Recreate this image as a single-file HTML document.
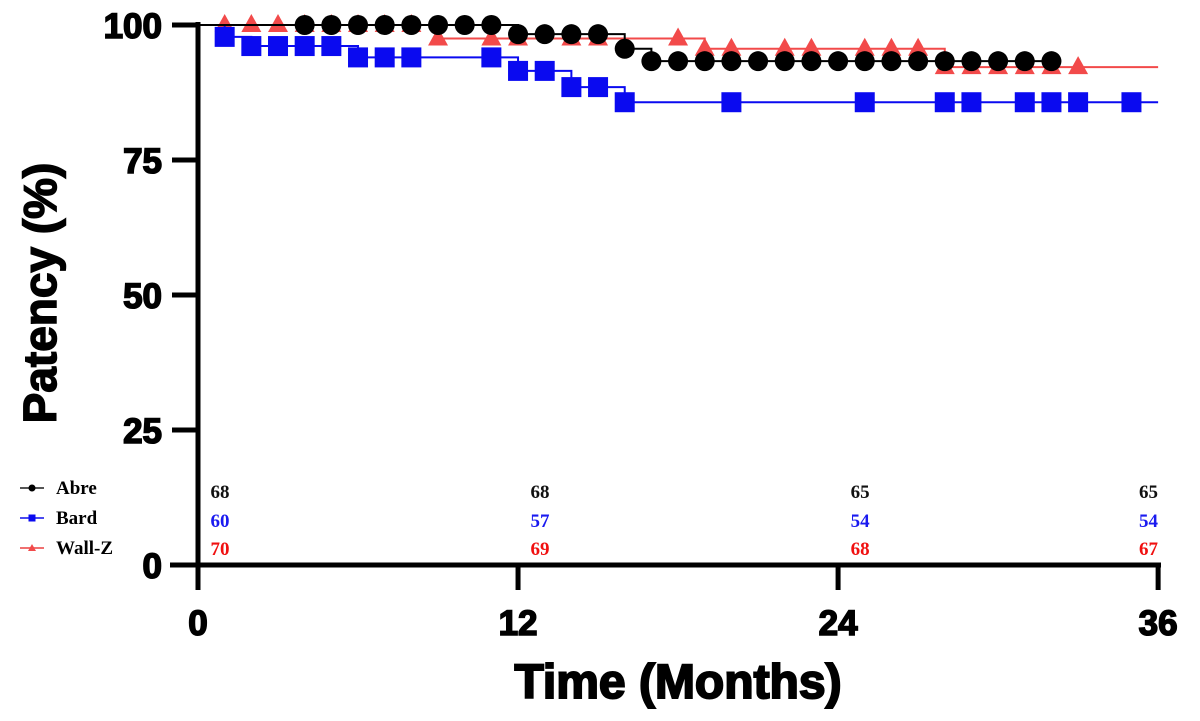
<!DOCTYPE html>
<html><head><meta charset="utf-8"><style>
body{margin:0;background:#fff}
svg{display:block}
.tk{font:bold 35px "Liberation Sans",sans-serif;stroke:#000;stroke-width:1.6px}
.n{font:bold 19px "Liberation Serif",serif}
</style></head><body>
<svg id="c" width="1200" height="721"></svg>
<script>
const months=[0,12,24,36];
const yTicks=[0,25,50,75,100];
const abreSteps=[[0,100],[12,98.3],[16,95.6],[17,93.3],[32,93.3]];
const abreMarks=[4,5,6,7,8,9,10,11,12,13,14,15,16,17,18,19,20,21,22,23,24,25,26,27,28,29,30,31,32];
const bardSteps=[[0,100],[1,97.8],[2,96.1],[6,94],[12,91.5],[14,88.5],[16,85.7],[36,85.7]];
const bardMarks=[1,2,3,4,5,6,7,8,11,12,13,14,15,16,20,25,28,29,31,32,33,35];
const wallSteps=[[0,100],[9,97.5],[19,95.6],[28,92.2],[36,92.2]];
const wallMarks=[1,2,3,4,5,6,7,8,9,11,12,14,15,18,19,20,22,23,25,26,27,28,29,30,31,32,33];
const atRiskAbre=[68,68,65,65];
const atRiskBard=[60,57,54,54];
const atRiskWall=[70,69,68,67];
const NS="http://www.w3.org/2000/svg",svg=document.getElementById('c');
const X=m=>198+m*26.67, Y=v=>565-v*5.4;
function mk(t,a,p){const e=document.createElementNS(NS,t);for(const k in a)e.setAttribute(k,a[k]);(p||svg).appendChild(e);return e;}
function valAt(steps,m){let v=steps[0][1];for(const s of steps){if(s[0]<=m)v=s[1];}return v;}
function series(steps,marks,col,shape,name){
  const g=mk('g',{});
  
  
  let d='M'+X(steps[0][0])+','+Y(steps[0][1]);
  for(let i=1;i<steps.length;i++){d+=' H'+X(steps[i][0])+' V'+Y(steps[i][1]);}
  mk('path',{d:d,fill:'none',stroke:col,'stroke-width':2},g);
  for(const m of marks){
    const x=X(m),y=Y(valAt(steps,m));let e;
    if(shape==='c')e=mk('circle',{cx:x,cy:y,r:10,fill:col},g);
    else if(shape==='s')e=mk('rect',{x:x-10,y:y-10,width:20,height:20,fill:col},g);
    else e=mk('polygon',{points:`${x},${y-11} ${x-10},${y+7} ${x+10},${y+7}`,fill:col},g);
    
    
  }
}
series(wallSteps,wallMarks,'#f24a4a','t','wall-z');
series(bardSteps,bardMarks,'#0a0af0','s','bard');
series(abreSteps,abreMarks,'#000','c','abre');
let a=mk('line',{x1:198,y1:22,x2:198,y2:590,stroke:'#000','stroke-width':5});

a=mk('line',{x1:170,y1:565,x2:1161,y2:565,stroke:'#000','stroke-width':5});

for(const v of yTicks){
  if(v>0)mk('line',{x1:172,y1:Y(v),x2:198,y2:Y(v),stroke:'#000','stroke-width':5});
  const t=mk('text',{x:162,y:Y(v)+13,'text-anchor':'end',class:'tk'});t.textContent=v;
  
}
for(const m of months){
  mk('line',{x1:X(m),y1:565,x2:X(m),y2:590,stroke:'#000','stroke-width':5});
  const t=mk('text',{x:X(m),y:635,'text-anchor':'middle',class:'tk'});t.textContent=m;
  
}
[[atRiskAbre,'#111',498],[atRiskBard,'#1a1af0',527],[atRiskWall,'#f01010',555]].forEach(([arr,col,y])=>{
  arr.forEach((v,i)=>{
    const x=i===3?1158:X(months[i])+22;
    const t=mk('text',{x:x,y:y,'text-anchor':i===3?'end':'middle',class:'n',fill:col});t.textContent=v;
    
  });
});
[['Abre','#555','#000','c',488],['Bard','#4a4af0','#0a0af0','s',518],['Wall-Z','#f07070','#f24a4a','t',548]].forEach(([lab,lc,mc,sh,y])=>{
  const g=mk('g',{});
  
  mk('line',{x1:20,y1:y,x2:44,y2:y,stroke:lc,'stroke-width':2},g);
  if(sh==='c')mk('circle',{cx:32,cy:y,r:3.5,fill:mc},g);
  else if(sh==='s')mk('rect',{x:28.5,y:y-3.5,width:7,height:7,fill:mc},g);
  else mk('polygon',{points:`32,${y-4} 28,${y+3} 36,${y+3}`,fill:mc},g);
  const t=mk('text',{x:56,y:y+6,class:'n'},g);t.textContent=lab;
});
let t=mk('text',{x:678,y:698,'text-anchor':'middle',style:'font:bold 48px "Liberation Sans",sans-serif;stroke:#000;stroke-width:2px'});
t.textContent='Time (Months)';
t=mk('text',{x:0,y:0,'text-anchor':'middle',transform:'translate(56,293) rotate(-90)',style:'font:bold 46px "Liberation Sans",sans-serif;stroke:#000;stroke-width:1.5px'});
t.textContent='Patency (%)';
</script>
</body></html>
